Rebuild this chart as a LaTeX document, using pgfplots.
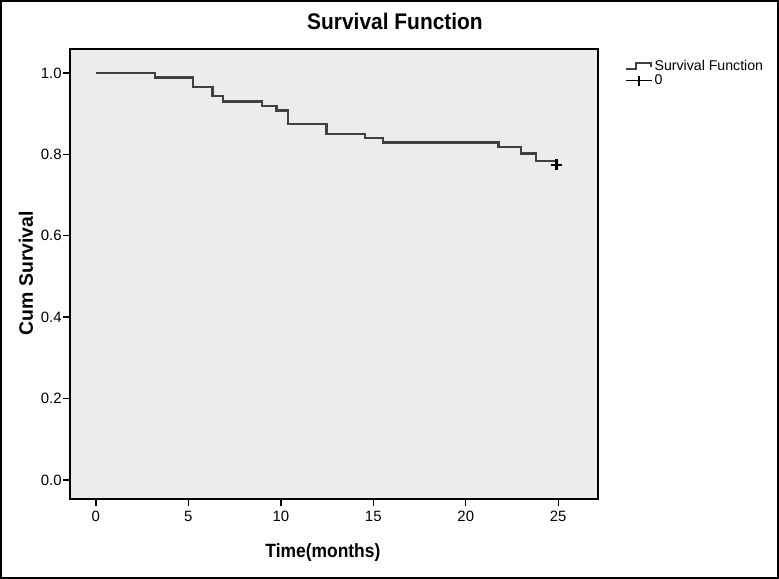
\documentclass[border=0pt]{standalone}
\usepackage{pgfplots}
\pgfplotsset{compat=1.18}
\usepackage{fontspec}
\setmainfont{Liberation Sans}
\definecolor{plotbg}{RGB}{236,236,236}
\definecolor{curve}{RGB}{64,64,64}
\begin{document}
\begin{tikzpicture}[x=1bp,y=1bp]
\path[use as bounding box] (0,0) rectangle (779,579);
\draw[line width=2bp] (1,1) rectangle (778,578);
\node[font=\bfseries\fontsize{21}{25}\selectfont] at (395,558) {\scalebox{1}[1.08]{Survival Function}};
\begin{axis}[
  at={(70bp,80bp)}, anchor=south west,
  scale only axis, width=528bp, height=450bp,
  xmin=-1.4, xmax=27.15, ymin=-0.047, ymax=1.059,
  axis background/.style={fill=plotbg},
  axis line style={line width=1.4bp},
  xtick={0,5,10,15,20,25},
  ytick={0,0.2,0.4,0.6,0.8,1},
  tick pos=left, tick align=outside,
  major tick length=7bp,
  tick style={black, line width=1.4bp},
  /pgf/number format/assume math mode=true,
  ticklabel style={font=\fontsize{15}{17}\selectfont},
  yticklabel style={inner sep=1.2bp, /pgf/number format/.cd, fixed, fixed zerofill, precision=1},
  xticklabel style={yshift=-2bp},
  xlabel={\scalebox{1}[1.1]{Time(months)}},
  xlabel style={font=\bfseries\fontsize{17.5}{20}\selectfont, at={(axis description cs:0.479,-0.118)}, anchor=center},
  ylabel={Cum Survival},
  ylabel style={font=\bfseries\fontsize{19.5}{22}\selectfont, at={(axis description cs:-0.0833,0.502)}, anchor=center},
  legend style={draw=none, fill=none, at={(1,1)}, anchor=north west, xshift=27bp, yshift=-9bp,
    font=\fontsize{14.2}{16}\selectfont, inner sep=0pt, row sep=-1bp},
  legend cell align=left,
]
\addplot[const plot, color=curve, line width=2.2bp,
  legend image code/.code={\draw[color=curve, line width=1.5bp] (0bp,-3bp) -- (10bp,-3bp) -- (10bp,3bp) -- (25bp,3bp) -- (25bp,-1bp);}]
coordinates {
(0,1.0)
(3.19,0.989)
(5.23,0.965)
(6.31,0.943)
(6.89,0.930)
(8.96,0.919)
(9.77,0.908)
(10.40,0.874)
(12.47,0.851)
(14.55,0.840)
(15.54,0.829)
(21.77,0.818)
(23.00,0.802)
(23.80,0.783)
(24.85,0.783)
};
\addlegendentry{Survival Function}
\addplot[only marks, mark=+, mark size=5.5bp, color=black, mark options={line width=2.2bp},
  legend image code/.code={\draw[black, line width=1.3bp] (0bp,0bp) -- (26bp,0bp); \draw[black, line width=1.3bp] (13bp,-5bp) -- (13bp,5bp);}]
coordinates {(24.9,0.774)};
\addlegendentry{0}
\end{axis}
\end{tikzpicture}
\end{document}
